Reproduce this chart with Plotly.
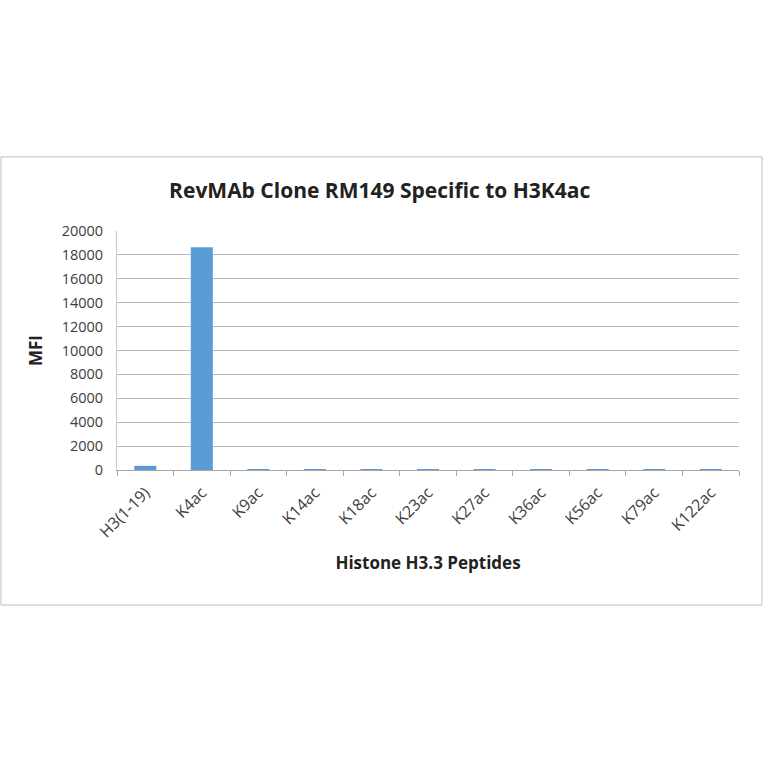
import plotly.graph_objects as go

# peptides on the array and mean fluorescence
peptides = ["H3(1-19)", "K4ac", "K9ac", "K14ac", "K18ac", "K23ac",
            "K27ac", "K36ac", "K56ac", "K79ac", "K122ac"]
mfi = [350, 18650, 80, 80, 80, 80, 80, 80, 80, 80, 80]
y_ticks = [0, 2000, 4000, 6000, 8000, 10000, 12000, 14000, 16000, 18000, 20000]

fig = go.Figure(go.Bar(
    x=peptides,
    y=mfi,
    marker=dict(color="#5b9bd5", line=dict(width=0)),
))

txt = "#404040"
fig.update_layout(
    width=764, height=764,
    margin=dict(l=117, r=25, t=231, b=294),
    paper_bgcolor="white", plot_bgcolor="white",
    bargap=0.61,
    showlegend=False,
    font=dict(family="Open Sans", color=txt),
    title=dict(text="<b>RevMAb Clone RM149 Specific to H3K4ac</b>",
               x=0.497, xanchor="center", y=0.751, yanchor="middle",
               font=dict(size=21, color="#222222")),
    xaxis=dict(
        tickangle=-45, tickfont=dict(size=16, color=txt), ticklabelstandoff=6,
        ticks="outside", tickson="boundaries", ticklen=5, tickcolor="#a6a6a6",
        showline=True, linecolor="#a6a6a6", linewidth=1,
        title=dict(text="<b>Histone H3.3 Peptides</b>",
                   font=dict(size=17, color="#222222"), standoff=16),
    ),
    yaxis=dict(
        range=[0, 20000], tickvals=y_ticks, tickformat="d",
        tickfont=dict(size=14.5, color=txt), ticklabelstandoff=10,
        showgrid=True, gridcolor="#b8b8b8", gridwidth=1,
        showline=True, linecolor="#c8c8c8", zeroline=False,
        title=dict(text="<b>MFI</b>", font=dict(size=17, color="#222222"),
                   standoff=14),
    ),
    shapes=[dict(type="rect", xref="paper", yref="paper",
                 x0=-0.1865, x1=1.037, y0=-0.565, y1=1.31,
                 line=dict(color="#bfbfbf", width=1), layer="below")],
)

# the page's default body margin would push the chart 8px off
fig.write_html("out.html", config={"displayModeBar": False},
               post_script="document.body.style.margin='0';")
